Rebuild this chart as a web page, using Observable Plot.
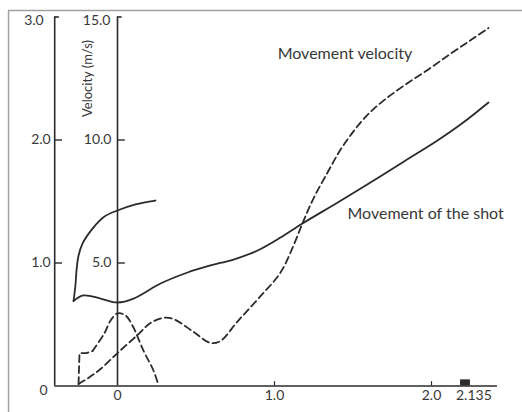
<!DOCTYPE html>
<html>
<head>
<meta charset="utf-8">
<script src="https://cdn.jsdelivr.net/npm/d3@7"></script>
<script src="https://cdn.jsdelivr.net/npm/@observablehq/plot@0.6"></script>
<style>
  html, body { margin: 0; padding: 0; background: #fff; }
  #chart svg { display: block; }
</style>
</head>
<body>
<div id="chart"></div>
<script>
// ---- data (time in s; movement in m on the left axis; velocity in m/s) ----
// Movement of the shot (solid), long branch
const shotT = [-0.280, -0.217, -0.108, 0, 0.102, 0.274, 0.446, 0.592, 0.739, 0.892, 1.038, 1.178, 1.400, 1.611, 1.820, 2.038, 2.200, 2.363];
const shotY = [0.691, 0.736, 0.711, 0.679, 0.711, 0.833, 0.923, 0.980, 1.028, 1.102, 1.207, 1.321, 1.490, 1.654, 1.822, 1.996, 2.140, 2.305];
// Upper solid arc
const arcT = [-0.280, -0.268, -0.261, -0.248, -0.223, -0.159, -0.083, 0, 0.115, 0.242];
const arcY = [0.691, 0.817, 0.939, 1.061, 1.158, 1.280, 1.378, 1.427, 1.476, 1.508];
// Movement velocity (dashed, long)
const velT = [-0.248, -0.185, -0.108, 0, 0.127, 0.210, 0.293, 0.357, 0.484, 0.592, 0.656, 0.764, 0.898, 1.038, 1.121, 1.178, 1.248, 1.338, 1.420, 1.503, 1.592, 1.694, 1.822, 1.975, 2.121, 2.248, 2.363];
const velV = [0.08, 0.33, 0.69, 1.34, 2.07, 2.56, 2.77, 2.72, 2.20, 1.75, 1.83, 2.62, 3.56, 4.61, 5.71, 6.61, 7.62, 8.68, 9.60, 10.35, 11.02, 11.60, 12.20, 12.85, 13.50, 14.05, 14.55];
// Short dashed velocity with step and peak near 0
const armT = [-0.248, -0.242, -0.197, -0.159, -0.083, -0.045, 0, 0.051, 0.096, 0.166, 0.229, 0.261];
const armV = [0.08, 1.34, 1.34, 1.42, 2.15, 2.65, 2.95, 2.87, 2.45, 1.43, 0.63, 0.04];

// axis tick labels
const leftTicks = [1.0, 2.0];
const leftTickLabels = ["1.0", "2.0"];
const velTicks = [5.0, 10.0];
const velTickLabels = ["5.0", "10.0"];
const xTicks = [0, 1.0, 2.0];
const xTickLabels = ["0", "1.0", "2.0"];
const endMarkLabel = "2.135";

// ---- build ----
const zip = (t, v, k = 1) => t.map((x, i) => ({t: x, y: v[i] * k}));
const shot = zip(shotT, shotY);
const arc = zip(arcT, arcY);
const vel = zip(velT, velV, 1 / 5);
const armStep = zip(armT.slice(0, 4), armV.slice(0, 4), 1 / 5);
const armPeak = zip(armT.slice(3), armV.slice(3), 1 / 5);

const X0 = -0.4;      // left axis position
const XEND = 2.42;    // end of time axis
const ink = "#2b2b2b";
const txt = "#383838";
const font = "Lato, 'Open Sans', sans-serif";
const dash = "7,4";

const chart = Plot.plot({
  width: 522,
  height: 412,
  margin: 0,
  x: {domain: [-0.7452, 2.5796], axis: null},
  y: {domain: [-0.2154, 3.1341], axis: null},
  style: {background: "#fff", fontFamily: font},
  marks: [
    // outer frame (top and left edges visible)
    Plot.ruleY([3.053], {x1: -0.694, x2: 2.5796, stroke: "#a0a0a0", strokeWidth: 1.5}),
    Plot.ruleX([-0.694], {y1: -0.2154, y2: 3.053, stroke: "#a0a0a0", strokeWidth: 1.5}),
    // axes
    Plot.ruleX([X0, 0], {y1: 0, y2: 3.0, stroke: ink, strokeWidth: 1.6}),
    Plot.ruleY([0], {x1: X0, x2: XEND, stroke: ink, strokeWidth: 1.6}),
    Plot.ruleY([3.0], {x1: X0, x2: X0 + 0.03, stroke: ink, strokeWidth: 1.6}),
    Plot.ruleY([3.0], {x1: 0, x2: 0.03, stroke: ink, strokeWidth: 1.6}),
    Plot.ruleY(leftTicks, {x1: X0, x2: X0 + 0.05, stroke: ink, strokeWidth: 1.4}),
    Plot.ruleY(velTicks, {y: d => d / 5, x1: 0, x2: 0.05, stroke: ink, strokeWidth: 1.4}),
    Plot.ruleX(xTicks.slice(1), {y1: 0, y2: 0.035, stroke: ink, strokeWidth: 1.2}),
    Plot.rect([2.135], {x1: 2.185, x2: 2.248, y1: 0, y2: 0.05, fill: ink}),
    // tick labels
    Plot.text(leftTicks, {x: X0, y: d => d, text: (d, i) => leftTickLabels[i], textAnchor: "end", dx: -4, fontSize: 14, fill: txt}),
    Plot.text(["3.0"], {x: X0, y: 3.0, text: d => d, textAnchor: "end", dx: -11, dy: 4, fontSize: 14, fill: txt}),
    Plot.text(["0"], {x: X0, y: 0, text: d => d, textAnchor: "end", dx: -7, dy: 5, fontSize: 14, fill: txt}),
    Plot.text(velTicks, {x: 0, y: d => d / 5, text: (d, i) => velTickLabels[i], textAnchor: "end", dx: -6, fontSize: 14, fill: txt}),
    Plot.text(["15.0"], {x: 0, y: 3.0, text: d => d, textAnchor: "end", dx: -7, dy: 4, fontSize: 14, fill: txt}),
    Plot.text(xTicks, {x: d => d, y: 0, text: (d, i) => xTickLabels[i], dy: 10, fontSize: 14, fill: txt}),
    Plot.text([endMarkLabel], {x: 2.27, y: 0, text: d => d, dy: 10, fontSize: 14, fill: txt}),
    Plot.text(["Velocity (m/s)"], {x: -0.191, y: 2.5, text: d => d, rotate: -90, fontSize: 13, fill: txt}),
    // curves
    Plot.line(arc, {x: "t", y: "y", stroke: ink, strokeWidth: 1.8, curve: "catmull-rom"}),
    Plot.line(shot, {x: "t", y: "y", stroke: ink, strokeWidth: 1.8, curve: "catmull-rom"}),
    Plot.line(vel, {x: "t", y: "y", stroke: ink, strokeWidth: 1.8, strokeDasharray: dash, curve: "catmull-rom"}),
    Plot.line(armStep, {x: "t", y: "y", stroke: ink, strokeWidth: 1.8, strokeDasharray: dash}),
    Plot.line(armPeak, {x: "t", y: "y", stroke: ink, strokeWidth: 1.8, strokeDasharray: dash, curve: "catmull-rom"}),
    // series labels
    Plot.text(["Movement velocity"], {x: 1.02, y: 2.70, text: d => d, textAnchor: "start", fontSize: 16, fill: txt}),
    Plot.text(["Movement of the shot"], {x: 1.465, y: 1.40, text: d => d, textAnchor: "start", fontSize: 16, fill: txt})
  ]
});
document.getElementById("chart").appendChild(chart);
</script>
</body>
</html>
